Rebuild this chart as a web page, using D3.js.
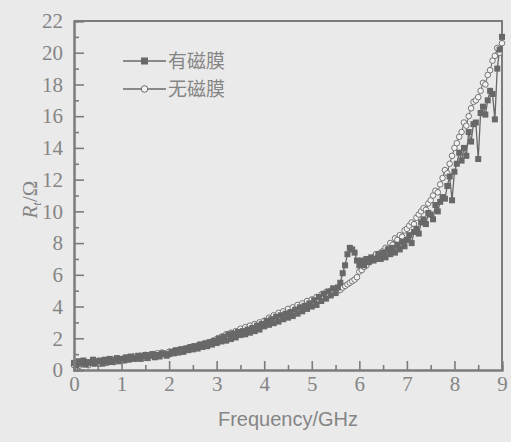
<!DOCTYPE html>
<html><head><meta charset="utf-8">
<script src="https://cdn.jsdelivr.net/npm/d3@7"></script>
<style>
html,body{margin:0;padding:0;background:#eaeaea;}
svg{display:block;}
</style></head>
<body>
<svg id="chart" width="511" height="442"></svg>
<script>
const freq = [
0,0.05,0.1,0.15,0.2,0.25,0.3,0.35,0.4,0.45,0.5,0.55,0.6,0.65,0.7,0.75,0.8,0.85,0.9,0.95,
1,1.05,1.1,1.15,1.2,1.25,1.3,1.35,1.4,1.45,1.5,1.55,1.6,1.65,1.7,1.75,1.8,1.85,1.9,1.95,
2,2.05,2.1,2.15,2.2,2.25,2.3,2.35,2.4,2.45,2.5,2.55,2.6,2.65,2.7,2.75,2.8,2.85,2.9,2.95,
3,3.05,3.1,3.15,3.2,3.25,3.3,3.35,3.4,3.45,3.5,3.55,3.6,3.65,3.7,3.75,3.8,3.85,3.9,3.95,
4,4.05,4.1,4.15,4.2,4.25,4.3,4.35,4.4,4.45,4.5,4.55,4.6,4.65,4.7,4.75,4.8,4.85,4.9,4.95,
5,5.05,5.1,5.15,5.2,5.25,5.3,5.35,5.4,5.45,5.5,5.55,5.6,5.65,5.7,5.75,5.8,5.85,5.9,5.95,
6,6.05,6.1,6.15,6.2,6.25,6.3,6.35,6.4,6.45,6.5,6.55,6.6,6.65,6.7,6.75,6.8,6.85,6.9,6.95,
7,7.05,7.1,7.15,7.2,7.25,7.3,7.35,7.4,7.45,7.5,7.55,7.6,7.65,7.7,7.75,7.8,7.85,7.9,7.95,
8,8.05,8.1,8.15,8.2,8.25,8.3,8.35,8.4,8.45,8.5,8.55,8.6,8.65,8.7,8.75,8.8,8.85,8.9,8.95,
9];
// 有磁膜 (filled squares)
const withFilm = [
0.45,0.3,0.55,0.4,0.6,0.35,0.5,0.45,0.65,0.4,0.55,0.6,0.4,0.65,0.5,0.7,0.5,0.6,0.75,0.55,
0.7,0.6,0.8,0.65,0.85,0.7,0.75,0.9,0.7,0.85,0.95,0.75,0.9,1.0,0.8,0.95,0.85,1.05,1.0,0.9,
1.0,1.15,1.05,1.25,1.1,1.3,1.15,1.35,1.25,1.45,1.3,1.5,1.35,1.6,1.45,1.65,1.5,1.75,1.6,1.85,
1.7,2.0,1.8,2.1,1.85,2.25,1.95,2.3,2.05,2.4,2.2,2.45,2.25,2.55,2.35,2.65,2.45,2.8,2.55,2.9,
2.75,3.1,2.85,3.2,2.95,3.35,3.05,3.45,3.2,3.55,3.3,3.65,3.4,3.8,3.55,3.95,3.7,4.05,3.85,4.2,
4.0,4.4,4.1,4.6,4.35,4.8,4.5,4.95,4.7,5.15,4.85,5.2,5.5,6.1,6.6,7.3,7.7,7.6,7.4,6.9,
6.6,6.9,6.6,7.0,6.8,7.1,6.9,7.0,7.3,7.0,7.4,7.1,7.6,7.3,7.7,7.4,7.9,7.6,8.1,7.8,
8.2,8.5,8.0,8.7,8.9,8.6,9.3,9.5,9.2,9.9,9.8,9.5,10.4,10.0,10.6,10.9,10.8,11.6,12.2,10.7,
12.5,13.0,13.7,13.2,14.0,13.5,15.0,14.4,15.5,15.6,13.3,16.2,16.6,16.1,17.0,17.6,17.4,15.8,19.0,20.2,
21.0];
// 无磁膜 (open circles)
const noFilm = [
0.3,0.4,0.25,0.45,0.35,0.4,0.3,0.5,0.4,0.45,0.55,0.4,0.5,0.6,0.45,0.55,0.65,0.5,0.6,0.7,
0.6,0.75,0.65,0.8,0.7,0.85,0.7,0.85,0.9,0.75,0.95,0.85,0.95,1.0,0.85,1.05,0.95,1.1,1.05,1.0,
1.15,1.05,1.2,1.1,1.25,1.3,1.15,1.35,1.4,1.3,1.5,1.4,1.55,1.6,1.5,1.7,1.6,1.75,1.8,1.85,
1.95,1.8,2.1,1.9,2.25,2.0,2.35,2.1,2.45,2.25,2.6,2.3,2.7,2.45,2.8,2.55,2.9,2.7,3.0,2.85,
3.1,2.9,3.3,3.0,3.45,3.15,3.6,3.3,3.7,3.45,3.85,3.55,3.95,3.7,4.1,3.85,4.2,4.0,4.35,4.1,
4.45,4.3,4.6,4.45,4.75,4.6,4.9,4.7,5.0,4.85,5.1,5.0,5.05,5.2,5.3,5.4,5.5,5.6,5.7,5.85,
6.2,6.3,6.5,6.6,6.8,6.9,7.1,7.3,7.2,7.4,7.5,7.7,7.6,8.0,7.9,8.3,8.2,8.5,8.4,8.8,
8.9,9.1,9.3,9.2,9.6,9.8,10.0,10.2,10.1,10.5,10.7,11.0,11.3,11.2,11.7,12.1,12.6,12.4,13.0,13.5,
14.0,14.3,14.7,15.0,15.6,15.4,16.0,16.5,16.9,17.0,17.2,17.6,18.1,18.0,18.6,18.9,19.5,19.8,20.3,20.0,
20.6];
const seriesNames = ["有磁膜", "无磁膜"];
const xTicks = [0,1,2,3,4,5,6,7,8,9];
const xMinor = [0.5,1.5,2.5,3.5,4.5,5.5,6.5,7.5,8.5];
const yTicks = [0,2,4,6,8,10,12,14,16,18,20,22];
const yMinor = [1,3,5,7,9,11,13,15,17,19,21];
const xLabel = "Frequency/GHz";

const ink = "#686868", axisCol = "#7c7c7c", textCol = "#858585";
const svg = d3.select("#chart");
const L = 74, R = 502, T = 21, B = 370;
const x = d3.scaleLinear().domain([0, 9]).range([L, R]);
const y = d3.scaleLinear().domain([0, 22]).range([B, T]);

// frame (top/right)
svg.append("path").attr("d", `M${L},${T}H${R}V${B}`).attr("fill","none")
  .attr("stroke", axisCol).attr("stroke-width", 2);

// data
const ptsA = freq.map((f,i)=>[f, withFilm[i]]);
const ptsB = freq.map((f,i)=>[f, noFilm[i]]);
const line = d3.line().x(d=>x(d[0])).y(d=>y(d[1]));
const plot = svg.append("g");
plot.append("path").attr("d", line(ptsB)).attr("fill","none").attr("stroke", ink).attr("stroke-width", 1);
plot.append("path").attr("d", line(ptsA)).attr("fill","none").attr("stroke", ink).attr("stroke-width", 1.3);
plot.selectAll("circle.b").data(ptsB).join("circle").attr("class","b")
  .attr("cx", d=>x(d[0])).attr("cy", d=>y(d[1])).attr("r", 2.8)
  .attr("fill", "#f2f2f2").attr("stroke", ink).attr("stroke-width", 0.9);
plot.selectAll("rect.a").data(ptsA).join("rect").attr("class","a")
  .attr("x", d=>x(d[0])-3).attr("y", d=>y(d[1])-3).attr("width", 6).attr("height", 6)
  .attr("fill", ink);

// axes
const fontNum = "'Liberation Serif','Times New Roman',serif";
svg.append("g").attr("transform", `translate(0,${B})`)
  .call(d3.axisBottom(x).tickValues(xTicks).tickSize(-9).tickPadding(6).tickFormat(d3.format("d")));
svg.append("g").attr("transform", `translate(0,${B})`)
  .call(d3.axisBottom(x).tickValues(xMinor).tickSize(-5).tickFormat(""));
svg.append("g").attr("transform", `translate(${L},0)`)
  .call(d3.axisLeft(y).tickValues(yTicks).tickSize(-10).tickPadding(11).tickFormat(d3.format("d")));
svg.append("g").attr("transform", `translate(${L},0)`)
  .call(d3.axisLeft(y).tickValues(yMinor).tickSize(-5).tickFormat(""));
svg.selectAll(".domain").attr("stroke", axisCol).attr("stroke-width", 2);
svg.selectAll(".tick line").attr("stroke", axisCol).attr("stroke-width", 1.6);
svg.selectAll(".tick text").attr("fill", textCol).style("font-family", fontNum).style("font-size", "21px");

// axis titles
svg.append("text").attr("x", (L+R)/2).attr("y", 426).attr("text-anchor","middle")
  .attr("fill", textCol).style("font-family","'Liberation Sans',Arial,sans-serif").style("font-size","20px")
  .text(xLabel);
const yt = svg.append("text").attr("transform", `translate(37,${(T+B)/2+4}) rotate(-90)`)
  .attr("text-anchor","middle").attr("fill", textCol)
  .style("font-family", fontNum).style("font-size","21px");
yt.append("tspan").style("font-style","italic").text("R");
yt.append("tspan").attr("dy", 4).style("font-size","13px").style("font-style","italic").text("t");
yt.append("tspan").attr("dy", -4).text("/Ω");

// legend
const lg = svg.append("g");
const legRows = [{name: seriesNames[0], type:"sq", yy: 61}, {name: seriesNames[1], type:"ci", yy: 89}];
legRows.forEach(r => {
  lg.append("line").attr("x1", 123).attr("x2", 166).attr("y1", r.yy).attr("y2", r.yy)
    .attr("stroke", ink).attr("stroke-width", 1.5);
  if (r.type === "sq") lg.append("rect").attr("x", 141).attr("y", r.yy-3.5).attr("width", 7).attr("height", 7).attr("fill", ink);
  else lg.append("circle").attr("cx", 144.5).attr("cy", r.yy).attr("r", 3.3).attr("fill", "#f2f2f2").attr("stroke", ink).attr("stroke-width", 1);
  lg.append("text").attr("x", 168).attr("y", r.yy + 7).attr("fill", textCol)
    .style("font-family","'Noto Sans CJK SC',sans-serif").style("font-size","19px").text(r.name);
});
</script>
</body></html>
